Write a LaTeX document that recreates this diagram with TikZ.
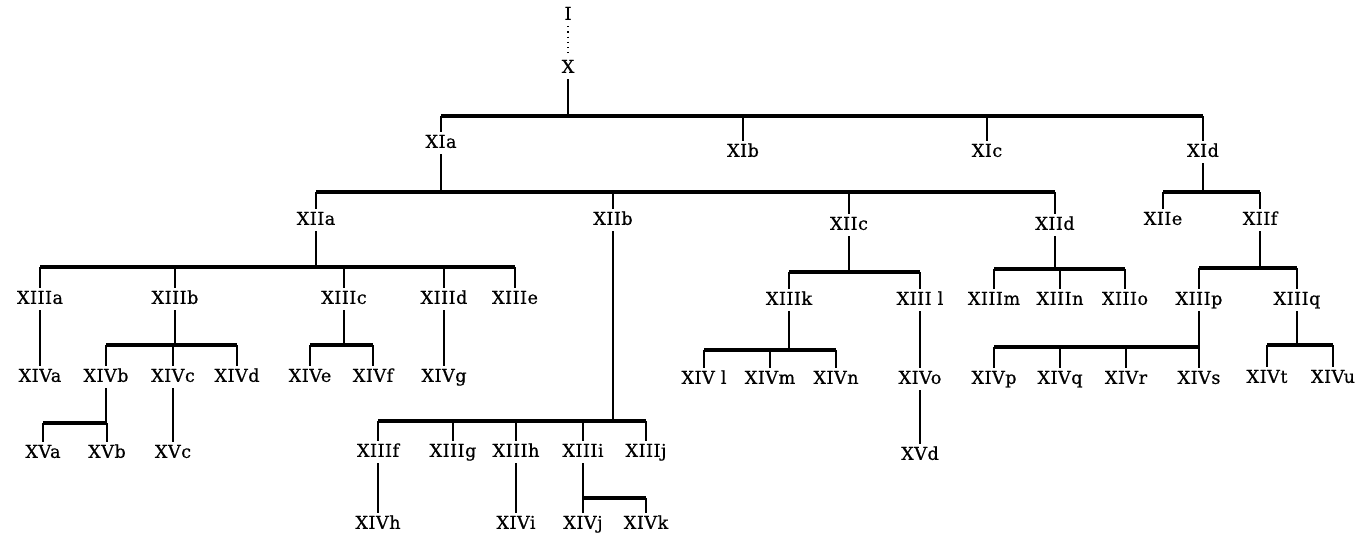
\documentclass[tikz,border=0pt]{standalone}
\usepackage{fontspec}
\setmainfont{DejaVu Serif}[FakeBold=0.7,LetterSpace=3]
\usepackage{tikz}
\tikzset{
  every node/.style={inner sep=1.5pt, text height=6.3pt, text depth=1.5pt, font=\fontsize{8.8}{10}\selectfont},
  stem/.style={line width=1.15pt},
  bar/.style={line width=1.7pt}
}
% parent, bar y, first child, last child, all children
\newcommand{\branch}[5]{%
  \draw[stem] (#1) -- (#1 |- 0,#2);
  \draw[bar] (#3 |- 0,#2) -- (#4 |- 0,#2);
  \foreach \c in {#5} \draw[stem] (\c |- 0,#2) -- (\c);
}

\begin{document}
\begin{tikzpicture}[x=0.5pt,y=-0.5pt]
  \useasboundingbox (0,0) rectangle (1364,537);
  % generations I to XII
  \node (I) at (568,15) {I};
  \node (X) at (568,68) {X};
  \node (XIa) at (441,143) {XIa};
  \node (XIb) at (743,152) {XIb};
  \node (XIc) at (987,152) {XIc};
  \node (XId) at (1203,152) {XId};
  \node (XIIa) at (316,220) {XIIa};
  \node (XIIb) at (613,220) {XIIb};
  \node (XIIc) at (849,225) {XIIc};
  \node (XIId) at (1055,225) {XIId};
  \node (XIIe) at (1163,220) {XIIe};
  \node (XIIf) at (1260,220) {XIIf};
  % generation XIII
  \node (XIIIa) at (40,299) {XIIIa};
  \node (XIIIb) at (175,299) {XIIIb};
  \node (XIIIc) at (344,299) {XIIIc};
  \node (XIIId) at (444,299) {XIIId};
  \node (XIIIe) at (515,299) {XIIIe};
  \node (XIIIf) at (378,452) {XIIIf};
  \node (XIIIg) at (453,452) {XIIIg};
  \node (XIIIh) at (516,452) {XIIIh};
  \node (XIIIi) at (583,452) {XIIIi};
  \node (XIIIj) at (646,452) {XIIIj};
  \node (XIIIk) at (789,300) {XIIIk};
  \node (XIIIl) at (920,300) {XIII l};
  \node (XIIIm) at (994,300) {XIIIm};
  \node (XIIIn) at (1060,300) {XIIIn};
  \node (XIIIo) at (1125,300) {XIIIo};
  \node (XIIIp) at (1199,300) {XIIIp};
  \node (XIIIq) at (1297,300) {XIIIq};
  % generation XIV
  \node (XIVa) at (40,377) {XIVa};
  \node (XIVb) at (106,377) {XIVb};
  \node (XIVc) at (173,377) {XIVc};
  \node (XIVd) at (237,377) {XIVd};
  \node (XIVe) at (310,377) {XIVe};
  \node (XIVf) at (373,377) {XIVf};
  \node (XIVg) at (444,377) {XIVg};
  \node (XIVh) at (378,524) {XIVh};
  \node (XIVi) at (516,524) {XIVi};
  \node (XIVj) at (583,524) {XIVj};
  \node (XIVk) at (646,524) {XIVk};
  \node (XIVl) at (704,379) {XIV l};
  \node (XIVm) at (770,379) {XIVm};
  \node (XIVn) at (836,379) {XIVn};
  \node (XIVo) at (920,379) {XIVo};
  \node (XIVp) at (994,379) {XIVp};
  \node (XIVq) at (1060,379) {XIVq};
  \node (XIVr) at (1126,379) {XIVr};
  \node (XIVs) at (1199,379) {XIVs};
  \node (XIVt) at (1267,378) {XIVt};
  \node (XIVu) at (1333,378) {XIVu};
  % generation XV
  \node (XVa) at (43,453) {XVa};
  \node (XVb) at (107,453) {XVb};
  \node (XVc) at (173,453) {XVc};
  \node (XVd) at (920,455) {XVd};

  \draw[dotted, line width=0.6pt] (I) -- (X);
  \branch{X}{116}{XIa}{XId}{XIa,XIb,XIc,XId}
  \branch{XIa}{192}{XIIa}{XIId}{XIIa,XIIb,XIIc,XIId}
  \branch{XId}{192}{XIIe}{XIIf}{XIIe,XIIf}
  \branch{XIIa}{267}{XIIIa}{XIIIe}{XIIIa,XIIIb,XIIIc,XIIId,XIIIe}
  \branch{XIIb}{421}{XIIIf}{XIIIj}{XIIIf,XIIIg,XIIIh,XIIIi,XIIIj}
  \branch{XIIc}{272}{XIIIk}{XIIIl}{XIIIk,XIIIl}
  \branch{XIId}{269}{XIIIm}{XIIIo}{XIIIm,XIIIn,XIIIo}
  \branch{XIIf}{268}{XIIIp}{XIIIq}{XIIIp,XIIIq}
  \branch{XIIIb}{345}{XIVb}{XIVd}{XIVb,XIVc,XIVd}
  \branch{XIIIc}{345}{XIVe}{XIVf}{XIVe,XIVf}
  \branch{XIIIk}{350}{XIVl}{XIVn}{XIVl,XIVm,XIVn}
  \branch{XIIIp}{347}{XIVp}{XIVs}{XIVp,XIVq,XIVr,XIVs}
  \branch{XIIIq}{345}{XIVt}{XIVu}{XIVt,XIVu}
  \branch{XIVb}{423}{XVa}{XVb}{XVa,XVb}
  \branch{XIIIi}{498}{XIVj}{XIVk}{XIVj,XIVk}
  \draw[stem] (XIIIa) -- (XIVa);
  \draw[stem] (XIIId) -- (XIVg);
  \draw[stem] (XIVc) -- (XVc);
  \draw[stem] (XIIIl) -- (XIVo);
  \draw[stem] (XIVo) -- (XVd);
  \draw[stem] (XIIIf) -- (XIVh);
  \draw[stem] (XIIIh) -- (XIVi);
\end{tikzpicture}
\end{document}
